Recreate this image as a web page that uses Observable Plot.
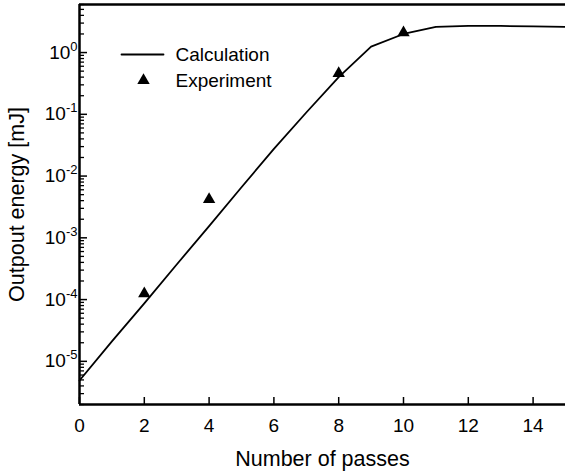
<!DOCTYPE html>
<html>
<head>
<meta charset="utf-8">
<script src="https://cdn.jsdelivr.net/npm/d3@7"></script>
<script src="https://cdn.jsdelivr.net/npm/@observablehq/plot@0.6"></script>
<style>
  html, body { margin: 0; padding: 0; background: #fff; }
  #chart { width: 565px; height: 476px; }
</style>
</head>
<body>
<div id="chart"></div>
<script>
// ---- data ----
const passes = [0, 1, 2, 3, 4, 5, 6, 7, 8, 9, 10, 11, 12, 13, 14, 15];
const calcEnergy = [4.9e-6, 2.1e-5, 8.7e-5, 3.7e-4, 1.55e-3, 6.6e-3, 0.0275, 0.107, 0.40, 1.25, 2.0, 2.6, 2.7, 2.7, 2.65, 2.6];
const expPasses = [2, 4, 8, 10];
const expEnergy = [1.25e-4, 4.2e-3, 0.46, 2.1];
const xTicks = [0, 2, 4, 6, 8, 10, 12, 14];
const yMajorTicks = [1e-5, 1e-4, 1e-3, 1e-2, 1e-1, 1];
const yTickLabels = ["10^-5", "10^-4", "10^-3", "10^-2", "10^-1", "10^0"];
const xDomain = [0, 15];
const yDomain = [2e-6, 6];
const legendLabels = ["Calculation", "Experiment"];
const xTitle = "Number of passes";
const yTitle = "Outpout energy [mJ]";

// minor ticks (2..9 x 10^k) inside the domain
const yMinorTicks = [];
for (let e = -6; e <= 0; e++) for (let m = 2; m <= 9; m++) {
  const v = m * Math.pow(10, e);
  if (v >= yDomain[0] && v <= yDomain[1]) yMinorTicks.push(v);
}

const calc = passes.map((p, i) => ({p, e: calcEnergy[i]}));
const expt = expPasses.map((p, i) => ({p, e: expEnergy[i]}));
const yLabelOf = d => {
  const i = yMajorTicks.findIndex(v => Math.abs(Math.log10(v / d)) < 1e-6);
  return i >= 0 ? yTickLabels[i] : "";
};

const W = 565, H = 476, ML = 79, MR = 0, MT = 4, MB = 72;
const plotW = W - ML - MR, plotH = H - MT - MB;
const font = "'Liberation Sans', Arial, Helvetica, sans-serif";

const lineShape = {draw(ctx, l) { ctx.moveTo(0, 0); ctx.lineTo(0, -l); }};

const svg = Plot.plot({
  width: W, height: H,
  marginLeft: ML, marginRight: MR, marginTop: MT, marginBottom: MB,
  style: {fontFamily: font, fontSize: "19px", color: "black", background: "white", overflow: "visible"},
  x: {domain: xDomain, axis: null},
  y: {type: "log", domain: yDomain, axis: null},
  marks: [
    // inward ticks
    Plot.tickY(yMinorTicks, {y: d => d, insetRight: plotW - 5, stroke: "black", strokeWidth: 1.3}),
    Plot.tickY(yMajorTicks, {y: d => d, insetRight: plotW - 8, stroke: "black", strokeWidth: 1.5}),
    Plot.tickX(xTicks, {x: d => d, insetTop: plotH - 7, stroke: "black", strokeWidth: 1.5}),
    // tick labels
    Plot.text(yMajorTicks, {y: d => d, text: yLabelOf, frameAnchor: "left", textAnchor: "end", lineAnchor: "middle", dx: -2, fontSize: 19}),
    Plot.text(xTicks, {x: d => d, text: d => String(d), frameAnchor: "bottom", textAnchor: "middle", lineAnchor: "middle", dy: 21, fontSize: 19}),
    // axis lines
    Plot.ruleX([xDomain[0]], {stroke: "black", strokeWidth: 2.5}),
    Plot.ruleY([yDomain[0], yDomain[1]], {stroke: "black", strokeWidth: 2.5}),
    // data
    Plot.line(calc, {x: "p", y: "e", stroke: "black", strokeWidth: 1.8}),
    Plot.dot(expt, {x: "p", y: "e", symbol: "triangle", fill: "black", r: 4.6}),
    // axis titles
    Plot.text([xTitle], {frameAnchor: "bottom", lineAnchor: "middle", textAnchor: "middle", dy: 55, fontSize: 21.5}),
    Plot.text([yTitle], {frameAnchor: "left", lineAnchor: "middle", textAnchor: "middle", rotate: -90, dx: -62, fontSize: 21.5}),
    // legend
    Plot.vector([legendLabels[0]], {frameAnchor: "top-left", dx: 42, dy: 50, rotate: 90, length: 42, anchor: "start", shape: lineShape, stroke: "black", strokeWidth: 1.8}),
    Plot.text([legendLabels[0]], {frameAnchor: "top-left", dx: 96, dy: 50, textAnchor: "start", lineAnchor: "middle", fontSize: 19}),
    Plot.dot([legendLabels[1]], {frameAnchor: "top-left", dx: 64, dy: 76, symbol: "triangle", fill: "black", r: 4.6}),
    Plot.text([legendLabels[1]], {frameAnchor: "top-left", dx: 96, dy: 76, textAnchor: "start", lineAnchor: "middle", fontSize: 19})
  ]
});

// superscript exponents on the y tick labels
d3.select(svg).selectAll("text").each(function () {
  const t = this.textContent;
  if (!/^10\^-?\d$/.test(t)) return;
  const parts = t.split("^");
  const sel = d3.select(this);
  sel.selectAll("*").remove();
  sel.text(null);
  sel.append("tspan").text(parts[0]);
  sel.append("tspan").attr("dy", -8).attr("font-size", 13).text(parts[1]);
});

document.getElementById("chart").appendChild(svg);
</script>
</body>
</html>
